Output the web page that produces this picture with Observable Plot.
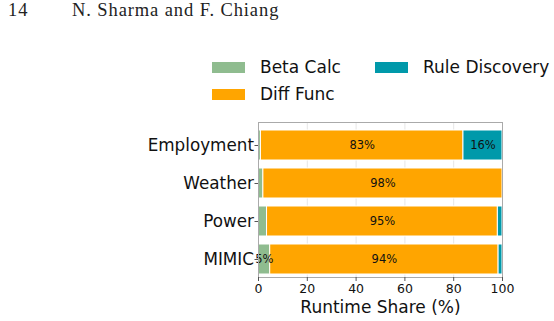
<!DOCTYPE html>
<html>
<head>
<meta charset="utf-8">
<script src="https://cdn.jsdelivr.net/npm/d3@7"></script>
<script src="https://cdn.jsdelivr.net/npm/@observablehq/plot@0.6"></script>
<style>
  html, body { margin: 0; padding: 0; background: #fff; }
  #page { position: relative; width: 554px; height: 321px; overflow: hidden; font-family: "DejaVu Sans", sans-serif; }
  .hdr { position: absolute; top: 0px; font-family: "Liberation Serif", "DejaVu Serif", serif; font-size: 18.5px; letter-spacing: 0.9px; color: #222; }
  .leg { position: absolute; display: flex; align-items: center; font-size: 17px; color: #111; }
  .sw { width: 33px; height: 11px; margin-right: 15px; }
  #chart { position: absolute; left: 0; top: 0; }
</style>
</head>
<body>
<div id="page">
  <div class="hdr" style="left:8px">14</div>
  <div class="hdr" style="left:72px">N. Sharma and F. Chiang</div>
  <div id="legend"></div>
  <div id="chart"></div>
</div>
<script>
// Runtime breakdown per dataset (percent of total runtime)
const categories = ["Employment", "Weather", "Power", "MIMIC"];
const components = ["Beta Calc", "Diff Func", "Rule Discovery"];
const componentColors = ["#8fbc8f", "#ffa500", "#0099aa"];
const betaCalc = [1, 2, 3.5, 4.8];
const diffFunc = [83, 98, 94.6, 93.6];
const ruleDiscovery = [16, 0, 1.9, 1.6];
const xTicks = [0, 20, 40, 60, 80, 100];

const series = [betaCalc, diffFunc, ruleDiscovery];
const rows = [];
categories.forEach((cat, i) => {
  components.forEach((comp, j) => {
    rows.push({ dataset: cat, component: comp, value: series[j][i] });
  });
});

// legend: two columns, items laid out column-wise
const legendPos = [
  { left: 212, top: 57 },
  { left: 212, top: 84 },
  { left: 375, top: 57 }
];
const legend = document.getElementById("legend");
components.forEach((c, j) => {
  const item = document.createElement("div");
  item.className = "leg";
  item.style.left = legendPos[j].left + "px";
  item.style.top = legendPos[j].top + "px";
  item.innerHTML = `<div class="sw" style="background:${componentColors[j]}"></div><span>${c}</span>`;
  legend.appendChild(item);
});

const stackOpts = { x: "value", y: "dataset", z: "component", order: null };

const plot = Plot.plot({
  width: 554,
  height: 321,
  marginLeft: 258,
  marginRight: 52,
  marginTop: 122,
  marginBottom: 44,
  style: { fontFamily: "DejaVu Sans, sans-serif", background: "transparent", overflow: "visible" },
  x: { domain: [0, 100], ticks: xTicks, label: null },
  y: { domain: categories, range: [129.5, 273.5], paddingInner: 0.22, paddingOuter: 0, label: null },
  color: { domain: components, range: componentColors },
  marks: [
    Plot.gridX(xTicks, { stroke: "#e6e6e6", strokeOpacity: 1 }),
    Plot.barX(rows, Plot.stackX({ ...stackOpts, fill: "component", stroke: "white", strokeWidth: 1 })),
    Plot.text(rows, Plot.stackX({
      ...stackOpts,
      text: d => d.value >= 4.5 ? `${Math.round(d.value)}%` : null,
      fontSize: 11.5,
      fill: "#111"
    })),
    Plot.frame({ stroke: "#aaaaaa", strokeWidth: 1 }),
    Plot.axisX({ ticks: xTicks, tickSize: 4, tickPadding: 3, fontSize: 12.5, fill: "#111", stroke: "#555", label: null }),
    Plot.axisY({ tickSize: 3.5, tickPadding: 1, fontSize: 16.8, fill: "#111", stroke: "#555", label: null }),
    Plot.text(["Runtime Share (%)"], { frameAnchor: "bottom", dy: 35, fontSize: 17, fill: "#111" })
  ]
});
document.getElementById("chart").appendChild(plot);
</script>
</body>
</html>
